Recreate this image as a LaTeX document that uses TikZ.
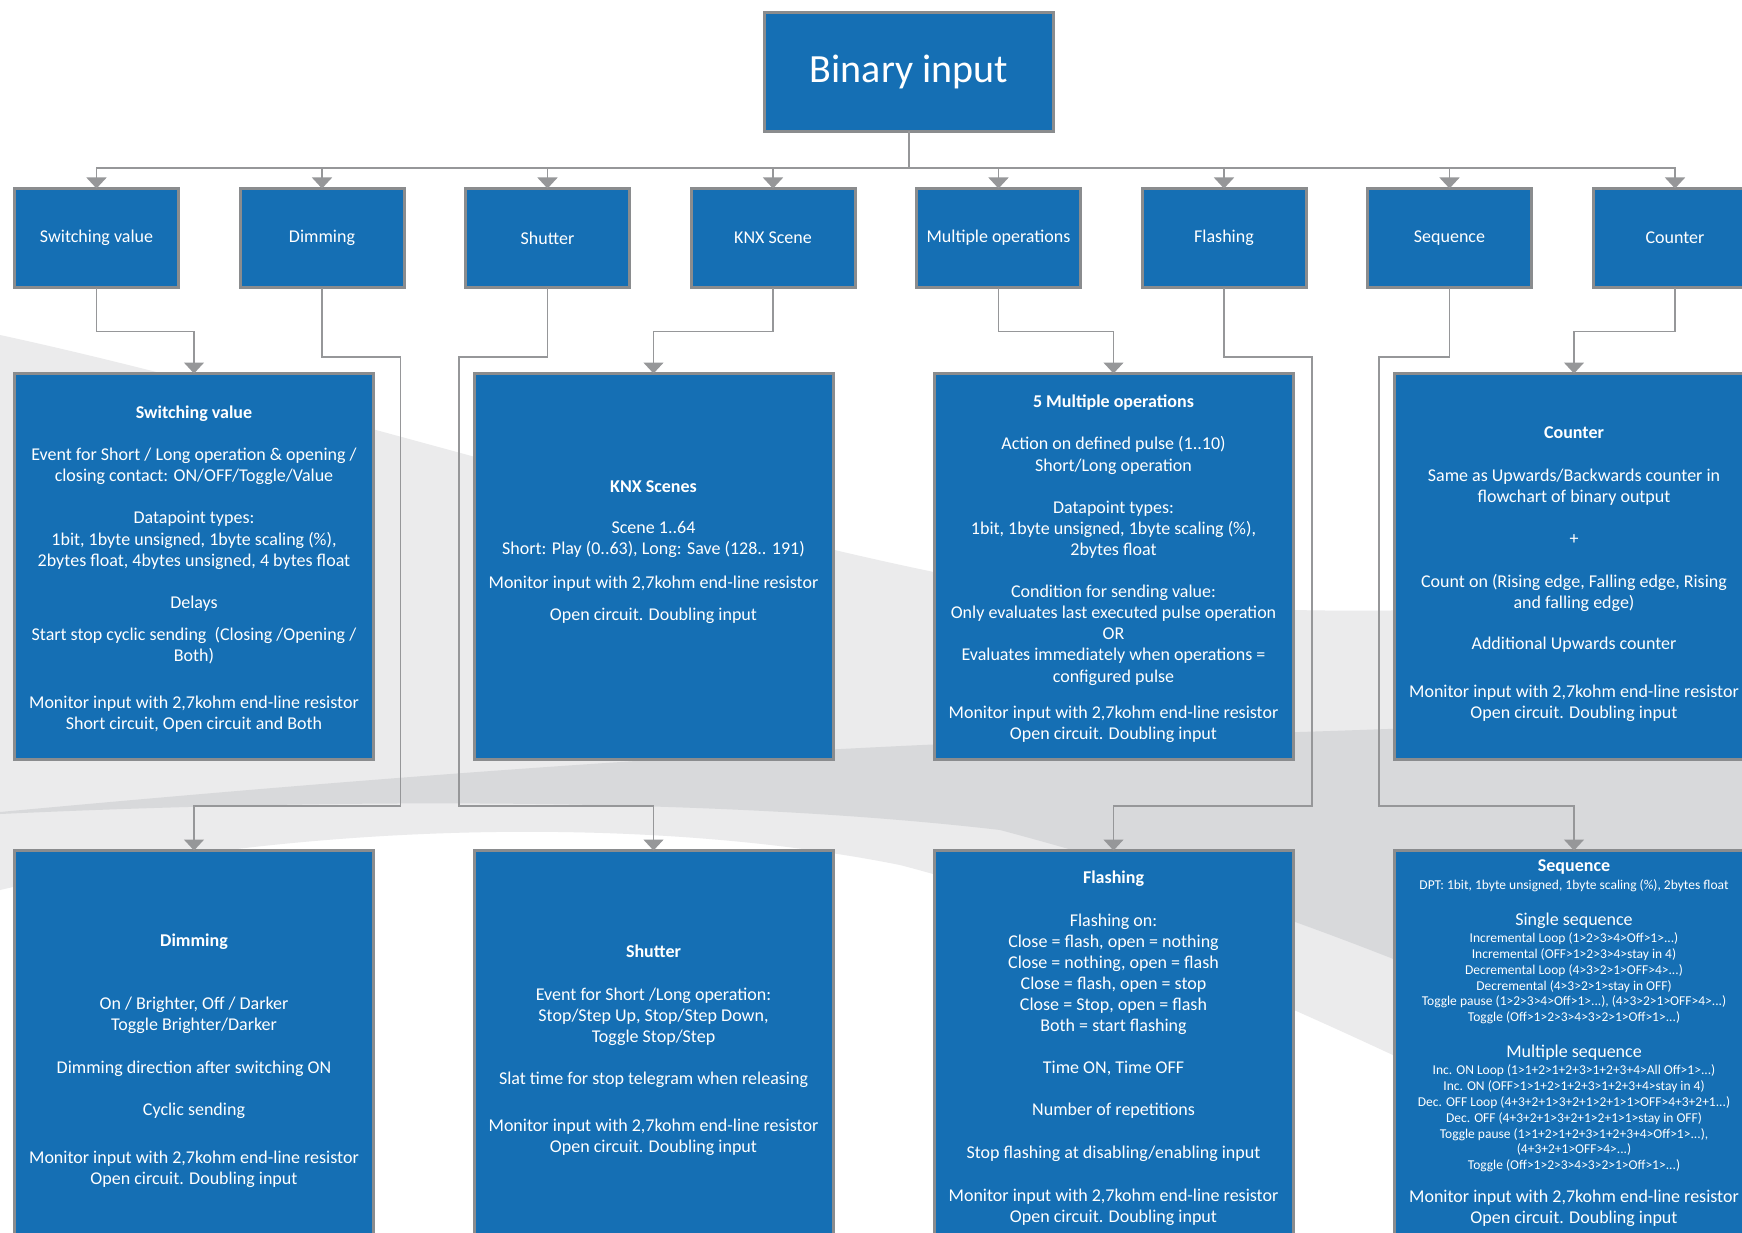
\documentclass[tikz,border=0pt]{standalone}
\usepackage{fontspec}
\setmainfont{Carlito}
\usetikzlibrary{arrows.meta}
\definecolor{boxfill}{RGB}{21,111,180}
\definecolor{boxline}{RGB}{138,140,142}
\definecolor{connline}{RGB}{150,151,153}
\definecolor{lightbg}{RGB}{235,235,236}
\definecolor{darkbg}{RGB}{216,217,219}

\begin{document}
\begin{tikzpicture}[x=1pt,y=-1pt,
  box/.style={draw=boxline,fill=boxfill,line width=3pt,outer sep=0pt,inner sep=0pt},
  topbox/.style={box,minimum width=289pt,minimum height=119pt},
  smallbox/.style={box,minimum width=164pt,minimum height=99pt},
  bigbox/.style={box,minimum width=359pt,minimum height=386pt},
  conn/.style={draw=connline,line width=1.6pt,-{Triangle[width=20pt,length=11pt]}},
  txt/.style={text=white,align=center,inner sep=0pt,font=\fontsize{18pt}{21.1pt}\selectfont},
  tinytxt/.style={text=white,align=center,inner sep=0pt,font=\fontsize{13.5pt}{15.8pt}\selectfont},
  titletxt/.style={text=white,inner sep=0pt,font=\fontsize{40pt}{48pt}\selectfont},
]
\useasboundingbox (0,0) rectangle (1742,1233);
\clip (0,0) rectangle (1742,1233);
\fill[white] (0,0) rectangle (1742,1233);

% background swooshes
\fill[lightbg] (0,335) .. controls (300,400) and (700,530) .. (1000,585)
  .. controls (1250,625) and (1500,610) .. (1742,595) -- (1742,1225)
  .. controls (1450,1080) and (1150,930) .. (900,865)
  .. controls (650,815) and (300,820) .. (0,890) -- cycle;
\fill[darkbg] (0,812) .. controls (400,775) and (800,745) .. (1200,735)
  .. controls (1450,728) and (1600,720) .. (1742,715) -- (1742,1110)
  .. controls (1500,1000) and (1300,910) .. (1000,830)
  .. controls (700,795) and (300,800) .. (0,814) -- cycle;

% root
\node[topbox] (root) at (909,72) {};
\node[titletxt] (roottext) at (909,72) {Binary input};

% second row
\node[smallbox] (n1) at (96.5,238) {};
\node[smallbox] (n2) at (322,238) {};
\node[smallbox] (n3) at (547.5,238) {};
\node[smallbox] (n4) at (773,238) {};
\node[smallbox] (n5) at (998.5,238) {};
\node[smallbox] (n6) at (1224,238) {};
\node[smallbox] (n7) at (1449.5,238) {};
\node[smallbox] (n8) at (1675,238) {};
\node[txt] (l1) at (n1) {Switching value};
\node[txt] (l2) at (n2) {Dimming};
\node[txt] (l3) at (n3) {Shutter};
\node[txt] (l4) at (n4) {KNX Scene};
\node[txt] (l5) at (n5) {Multiple operations};
\node[txt] (l6) at (n6) {Flashing};
\node[txt] (l7) at (n7) {Sequence};
\node[txt] (l8) at (n8) {Counter};

% detail boxes
\node[bigbox] (r3a) at (194,566.5) {};
\node[bigbox] (r3b) at (653.5,566.5) {};
\node[bigbox] (r3c) at (1113.5,566.5) {};
\node[bigbox] (r3d) at (1574,566.5) {};
\node[bigbox] (r4a) at (194,1043.5) {};
\node[bigbox] (r4b) at (653.5,1043.5) {};
\node[bigbox] (r4c) at (1113.5,1043.5) {};
\node[bigbox] (r4d) at (1574,1043.5) {};

% connectors from the root
\foreach \n in {n1,n2,n3,n4,n5,n6,n7,n8}
  \draw[conn] (root.south) -- ++(0,36.5) -| (\n.north);

% connectors to the detail boxes
\draw[conn] (n1.south) -- ++(0,44) -| (r3a.north);
\draw[conn] (n4.south) -- ++(0,44) -| (r3b.north);
\draw[conn] (n5.south) -- ++(0,44) -| (r3c.north);
\draw[conn] (n8.south) -- ++(0,44) -| (r3d.north);
\draw[conn] (n2.south) |- (400.5,357) -- (400.5,806) -| (r4a.north);
\draw[conn] (n3.south) |- (459,357) -- (459,806) -| (r4b.north);
\draw[conn] (n6.south) |- (1312,357) -- (1312,806) -| (r4c.north);
\draw[conn] (n7.south) |- (1379,357) -- (1379,806) -| (r4d.north);

% texts of the detail boxes
\node[txt] (t3a) at (194,569) {\textbf{Switching value}\\[21.1pt]
Event for Short / Long operation \& opening /\\
closing contact: ON/OFF/Toggle/Value\\[21.1pt]
Datapoint types:\\
1bit, 1byte unsigned, 1byte scaling (\%),\\
2bytes float, 4bytes unsigned, 4 bytes float\\[21.1pt]
Delays\\[11pt]
Start stop cyclic sending\ \ (Closing /Opening /\\
Both)\\[25.5pt]
Monitor input with 2,7kohm end-line resistor\\
Short circuit, Open circuit and Both};

\node[txt] (t3b) at (653.5,552) {\textbf{KNX Scenes}\\[20pt]
Scene 1..64\\
Short: Play (0..63), Long: Save (128.. 191)\\[13.3pt]
Monitor input with 2,7kohm end-line resistor\\[11pt]
Open circuit. Doubling input};

\node[txt] (t3c) at (1113.5,569) {\textbf{5 Multiple operations}\\[21.1pt]
Action on defined pulse (1..10)\\
Short/Long operation\\[21.1pt]
Datapoint types:\\
1bit, 1byte unsigned, 1byte scaling (\%),\\
2bytes float\\[21.1pt]
Condition for sending value:\\
Only evaluates last executed pulse operation\\
OR\\
Evaluates immediately when operations =\\
configured pulse\\[15.5pt]
Monitor input with 2,7kohm end-line resistor\\
Open circuit. Doubling input};

\node[txt] (t3d) at (1574,574.5) {\textbf{Counter}\\[21.1pt]
Same as Upwards/Backwards counter in\\
flowchart of binary output\\[21.1pt]
+\\[22.2pt]
Count on (Rising edge, Falling edge, Rising\\
and falling edge)\\[20pt]
Additional Upwards counter\\[26.7pt]
Monitor input with 2,7kohm end-line resistor\\
Open circuit. Doubling input};

\node[txt] (t4a) at (194,1060.5) {\textbf{Dimming}\\[42.2pt]
On / Brighter, Off / Darker\\
Toggle Brighter/Darker\\[21.1pt]
Dimming direction after switching ON\\[21.1pt]
Cyclic sending\\[26.7pt]
Monitor input with 2,7kohm end-line resistor\\
Open circuit. Doubling input};

\node[txt] (t4b) at (653.5,1050) {\textbf{Shutter}\\[22.2pt]
Event for Short /Long operation:\\
Stop/Step Up, Stop/Step Down,\\
Toggle Stop/Step\\[21.1pt]
Slat time for stop telegram when releasing\\[25.6pt]
Monitor input with 2,7kohm end-line resistor\\
Open circuit. Doubling input};

\node[txt] (t4c) at (1113.5,1048.4) {\textbf{Flashing}\\[21.1pt]
Flashing on:\\
Close = flash, open = nothing\\
Close = nothing, open = flash\\
Close = flash, open = stop\\
Close = Stop, open = flash\\
Both = start flashing\\[21.1pt]
Time ON, Time OFF\\[21.1pt]
Number of repetitions\\[21.1pt]
Stop flashing at disabling/enabling input\\[22.2pt]
Monitor input with 2,7kohm end-line resistor\\
Open circuit. Doubling input};

% sequence box
\node[txt] (s1) at (1574,867) {\textbf{Sequence}};
\node[tinytxt] (s2) at (1574,885.5) {DPT: 1bit, 1byte unsigned, 1byte scaling (\%), 2bytes float};
\node[txt] (s3) at (1574,920.5) {Single sequence};
\node[tinytxt] (s4) at (1574,978.5) {Incremental Loop (1>2>3>4>Off>1>...)\\
Incremental (OFF>1>2>3>4>stay in 4)\\
Decremental Loop (4>3>2>1>OFF>4>...)\\
Decremental (4>3>2>1>stay in OFF)\\
Toggle pause (1>2>3>4>Off>1>...), (4>3>2>1>OFF>4>...)\\
Toggle (Off>1>2>3>4>3>2>1>Off>1>...)};
\node[txt] (s5) at (1574,1052.5) {Multiple sequence};
\node[tinytxt] (s6) at (1574,1118.5) {Inc. ON Loop (1>1+2>1+2+3>1+2+3+4>All Off>1>...)\\
Inc. ON (OFF>1>1+2>1+2+3>1+2+3+4>stay in 4)\\
Dec. OFF Loop (4+3+2+1>3+2+1>2+1>1>OFF>4+3+2+1...)\\
Dec. OFF (4+3+2+1>3+2+1>2+1>1>stay in OFF)\\
Toggle pause (1>1+2>1+2+3>1+2+3+4>Off>1>...),\\
(4+3+2+1>OFF>4>...)\\
Toggle (Off>1>2>3>4>3>2>1>Off>1>...)};
\node[txt] (s7) at (1574,1208.5) {Monitor input with 2,7kohm end-line resistor\\
Open circuit. Doubling input};
\end{tikzpicture}
\end{document}
